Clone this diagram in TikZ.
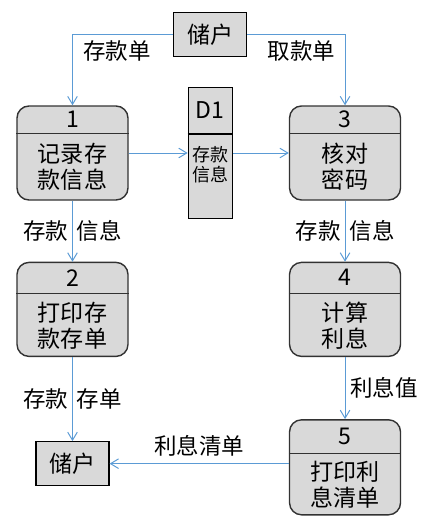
\documentclass[tikz,border=0pt]{standalone}
\usepackage{fontspec}
\setmainfont{Noto Sans CJK SC}
\usetikzlibrary{arrows.meta, positioning, calc}
\definecolor{flowblue}{RGB}{91,155,213}
\definecolor{boxgrey}{RGB}{217,217,217}
\definecolor{edgegrey}{RGB}{50,50,50}

\begin{document}
\begin{tikzpicture}[
  font=\fontsize{16.4}{18.5}\selectfont,
  proc/.style={rectangle, rounded corners=0.3cm, draw=edgegrey, line width=1pt, fill=boxgrey,
               minimum width=2.775cm, minimum height=2.35cm},
  ext/.style={rectangle, draw=black, line width=0.8pt, fill=boxgrey,
              minimum width=1.825cm, minimum height=1.1cm},
  store/.style={rectangle, draw=black, line width=0.8pt, fill=boxgrey,
                minimum width=1.1cm, minimum height=3.275cm},
  sep/.style={edgegrey, line width=0.8pt},
  ptxt/.style={align=center, inner sep=0pt},
  stxt/.style={align=center, inner sep=0pt, font=\fontsize{12.8}{14.2}\selectfont},
  fl/.style={-{Straight Barb[length=2mm, width=2.4mm]}, flowblue, line width=0.7pt},
  lbl/.style={text=black, font=\fontsize{16}{18}\selectfont}
]
\useasboundingbox (-1.8125,3.825) rectangle (9.0125,-9.275);

% processes and store
\node[proc] (p1) at (0,0) {};
\node[store, right=1.475cm of p1] (d1) {};
\node[proc, right=1.4cm of d1] (p3) {};
\node[proc, below=1.525cm of p1] (p2) {};
\node[proc, below=1.525cm of p3] (p4) {};
\node[proc, below=1.55cm of p4, minimum height=2.375cm] (p5) {};

% customer
\node[ext, above=0.75cm of d1] (cust1) {储户};
\node[ext, below=2.1cm of p2] (cust2) {储户};

% dividers and numbers
\foreach \p/\n/\d in {p1/1/0.7, p3/3/0.7, p2/2/0.8, p4/4/0.8, p5/5/0.85} {
  \draw[sep] ([yshift=-\d*1cm]\p.north west) -- ([yshift=-\d*1cm]\p.north east);
  \node[ptxt] (\p n) at ([yshift=-0.5*\d*1cm]\p.north) {\n};
}
\node[ptxt] (p1t) at ($(p1.south)!0.5!([yshift=-0.7cm]p1.north)$) {记录存\\款信息};
\node[ptxt] (p3t) at ($(p3.south)!0.5!([yshift=-0.7cm]p3.north)$) {核对\\密码};
\node[ptxt] (p2t) at ($(p2.south)!0.5!([yshift=-0.8cm]p2.north)$) {打印存\\款存单};
\node[ptxt] (p4t) at ($(p4.south)!0.5!([yshift=-0.8cm]p4.north)$) {计算\\利息};
\node[ptxt] (p5t) at ($(p5.south)!0.5!([yshift=-0.85cm]p5.north)$) {打印利\\息清单};

% store D1
\draw[black, line width=0.8pt] ([yshift=-1.175cm]d1.north west) -- ([yshift=-1.175cm]d1.north east);
\node[ptxt] (d1n) at ([yshift=-0.5875cm]d1.north) {D1};
\node[stxt] (d1t) at ([yshift=-1.95cm]d1.north) {存款\\信息};

% flows
\draw[fl] (cust1.west) -| node[lbl, below, pos=0.25, xshift=-0.15cm, inner sep=0.15cm] (l1) {存款单} (p1.north);
\draw[fl] (cust1.east) -| node[lbl, below, pos=0.25, xshift=0.13cm, inner sep=0.15cm] (l2) {取款单} (p3.north);
\draw[fl] (p1) -- (d1);
\draw[fl] (d1) -- (p3);
\draw[fl] (p1) -- node[lbl] (l3) {存款\hspace{0.4em}信息} (p2);
\draw[fl] (p3) -- node[lbl] (l4) {存款\hspace{0.4em}信息} (p4);
\draw[fl] (p2) -- node[lbl] (l5) {存款\hspace{0.4em}存单} (cust2);
\draw[fl] (p4) -- node[lbl, right] (l6) {利息值} (p5);
\draw[fl] (p5.west |- cust2) -- node[lbl, above, inner sep=0.16cm] (l7) {利息清单} (cust2);

\end{tikzpicture}
\end{document}
